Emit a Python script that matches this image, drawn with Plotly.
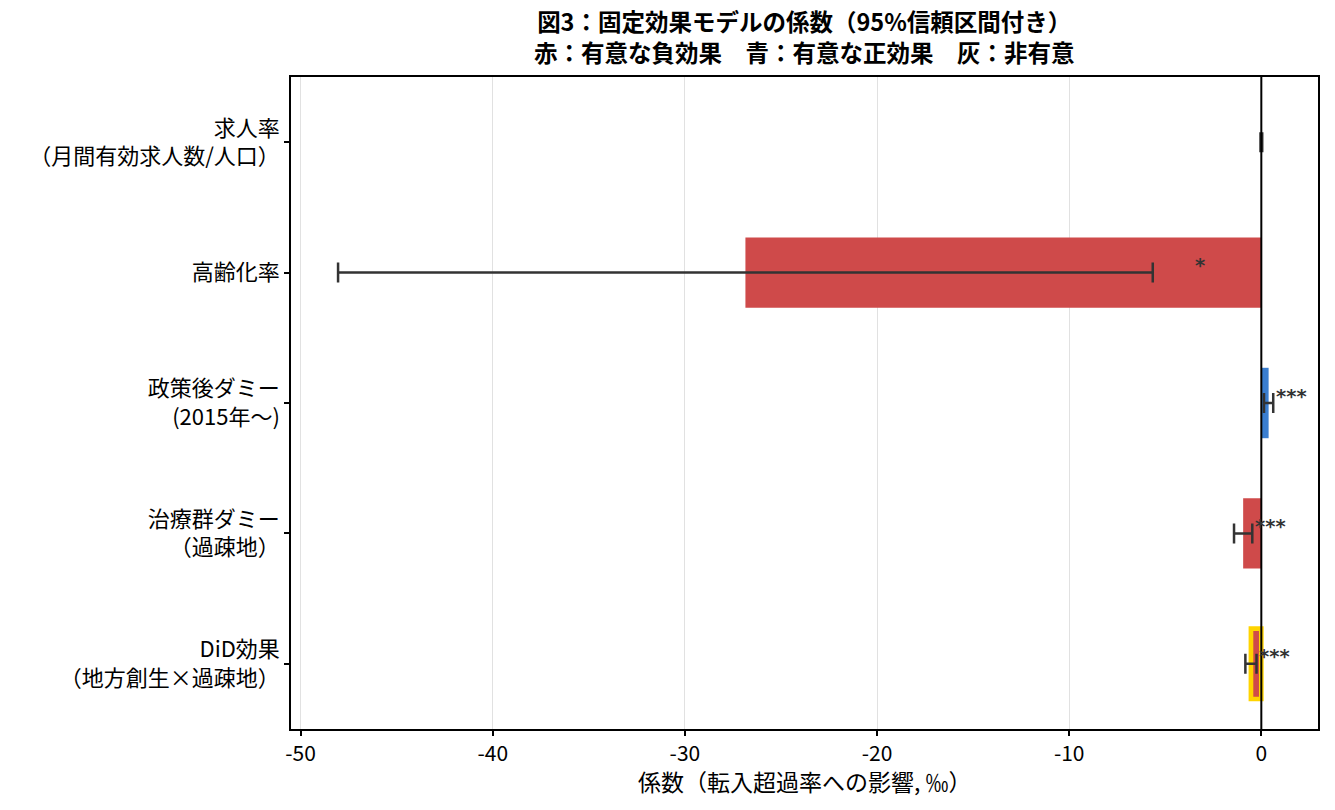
import plotly.graph_objects as go

# ---- data (top-to-bottom display order) ----
categories = [
    "求人率<br>（月間有効求人数/人口）",
    "高齢化率",
    "政策後ダミー<br>(2015年〜)",
    "治療群ダミー<br>（過疎地）",
    "DiD効果<br>（地方創生×過疎地）",
]
coefficients = [0.002, -26.85, 0.38, -0.945, -0.54]
ci_half = [0.045, 21.2, 0.24, 0.475, 0.29]
significance = ["", "*", "***", "***", "***"]
effect_class = ["ns", "neg", "pos", "neg", "neg"]
highlight = [False, False, False, False, True]

x_tick_values = [-50, -40, -30, -20, -10, 0]
x_tick_labels = ["-50", "-40", "-30", "-20", "-10", "0"]

title_lines = [
    "図3：固定効果モデルの係数（95%信頼区間付き）",
    "赤：有意な負効果　青：有意な正効果　灰：非有意",
]
x_title = "係数（転入超過率への影響, ‰）"

# ---- styles ----
FONT = "Noto Sans CJK JP"
color_map = {"neg": "#cf4a4a", "pos": "#3a7ed0", "ns": "#9e9e9e"}
bar_colors = [color_map[c] for c in effect_class]
line_colors = ["#ffd400" if h else "rgba(0,0,0,0)" for h in highlight]
line_widths = [4.7 if h else 0 for h in highlight]

# page body has an 8px margin; compensate
W, H = 1327, 802
ML, MR, MT, MB = 283, 17, 69, 81
plot_h = H - MT - MB

fig = go.Figure()
fig.add_trace(go.Bar(
    y=categories,
    x=coefficients,
    orientation="h",
    width=0.54,
    marker=dict(color=bar_colors, line=dict(color=line_colors, width=line_widths)),
    error_x=dict(type="data", array=ci_half, symmetric=True,
                 color="#333333", thickness=2.5, width=10),
    showlegend=False,
    hoverinfo="skip",
))

# significance stars
for cat, c, h, s in zip(categories, coefficients, ci_half, significance):
    if s:
        fig.add_annotation(
            x=c + 1.1 * h, y=cat, text="<b>" + s + "</b>",
            xanchor="left", yanchor="middle", showarrow=False, yshift=7,
            font=dict(family="DejaVu Sans", size=19.5, color="#333333"),
        )

# title (two lines, one text)
fig.add_annotation(
    x=0.5, xref="paper", y=1 + (MT - 29) / plot_h, yref="paper",
    text="<b>" + title_lines[0] + "</b><br><b>" + title_lines[1] + "</b>",
    showarrow=False, xanchor="center", yanchor="middle", align="center",
    font=dict(family=FONT, size=23.5, color="black"),
)

# x-axis title
fig.add_annotation(
    x=0.5, xref="paper", y=-(773 - (H - MB)) / plot_h, yref="paper",
    text=x_title, showarrow=False, xanchor="center", yanchor="middle",
    font=dict(family=FONT, size=23, color="black"),
)

# zero line
fig.add_shape(type="line", x0=0, x1=0, y0=0, y1=1, xref="x", yref="paper",
              line=dict(color="black", width=2), layer="above")

fig.update_layout(
    width=W, height=H,
    margin=dict(l=ML, r=MR, t=MT, b=MB, autoexpand=False),
    paper_bgcolor="white", plot_bgcolor="white",
    font=dict(family=FONT, size=22, color="black"),
    xaxis=dict(
        range=[-50.5, 2.95],
        tickvals=x_tick_values, ticktext=x_tick_labels,
        showgrid=True, gridcolor="#e1e1e1", gridwidth=1.4,
        zeroline=False, automargin=False,
        showline=True, mirror=True, linecolor="black", linewidth=1.5,
        ticks="outside", ticklen=5, tickwidth=1.5, tickcolor="black",
        tickfont=dict(size=21),
    ),
    yaxis=dict(
        type="category",
        categoryorder="array", categoryarray=categories,
        range=[len(categories) - 0.5, -0.5],
        showgrid=False, zeroline=False, automargin=False,
        showline=True, mirror=True, linecolor="black", linewidth=1.5,
        ticks="outside", ticklen=5, tickwidth=1.5, tickcolor="black",
        tickfont=dict(size=22),
    ),
)

fig.write_html("out.html")
